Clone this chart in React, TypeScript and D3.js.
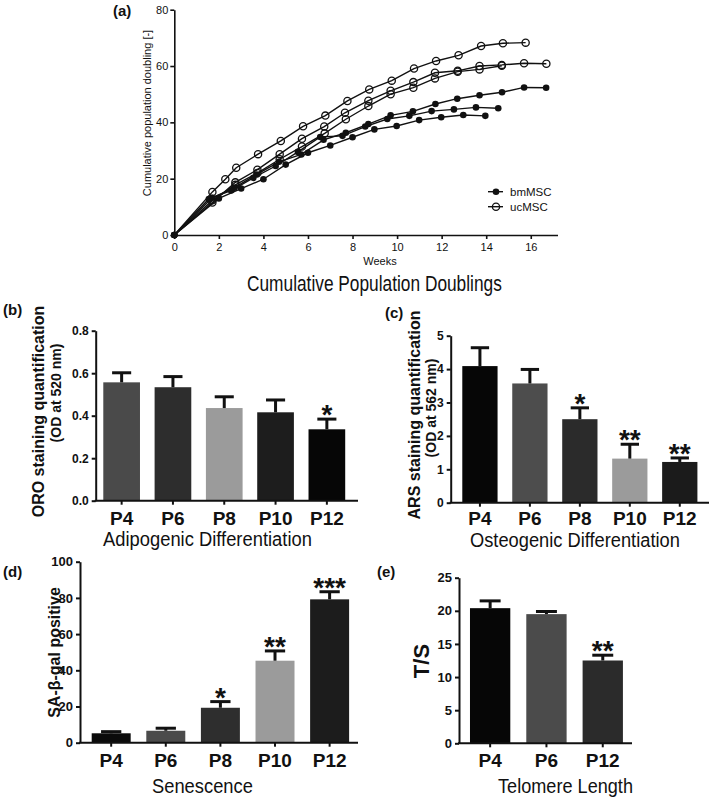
import React, { useEffect, useRef } from "react";
import * as d3 from "d3";

// (a) cumulative population doublings, [weeks, doublings]
const bmMSC1 = [[0, 0], [1.7, 13.2], [2.7, 16.8], [3.7, 21.5], [4.7, 26.0], [5.7, 28.6], [6.7, 33.8], [7.7, 36.3], [8.71, 39.4], [9.71, 42.5], [10.71, 43.9], [11.72, 46.5], [12.7, 48.4], [13.7, 49.6], [14.71, 50.7], [15.7, 52.4], [16.69, 52.3]];
const bmMSC2 = [[0, 0], [1.55, 12.8], [2.55, 15.8], [3.55, 20.3], [4.55, 24.5], [5.55, 29.5], [6.55, 34.8], [7.55, 35.2], [8.57, 38.5], [9.56, 41.2], [10.55, 42.3], [11.55, 44.0], [12.55, 44.6], [13.54, 45.3], [14.54, 45.0]];
const bmMSC3 = [[0, 0], [2, 13.0], [3, 16.5], [4, 19.8], [5, 25.0], [6, 29.2], [7, 31.8], [8, 34.7], [8.98, 37.5], [9.98, 38.7], [10.99, 40.8], [11.98, 41.8], [12.97, 42.6], [13.96, 42.3]];
const ucMSC1 = [[0, 0], [1.71, 15.3], [2.29, 19.8], [2.78, 23.9], [3.76, 28.7], [4.78, 33.4], [5.78, 38.6], [6.78, 42.4], [7.77, 47.6], [8.75, 51.7], [9.76, 54.8], [10.76, 59.1], [11.75, 61.8], [12.76, 63.8], [13.77, 67.1], [14.75, 68.1], [15.77, 68.3]];
const ucMSC2 = [[0, 0], [1.71, 11.5], [2.74, 18.7], [3.73, 23.2], [4.73, 28.7], [5.73, 34.2], [6.73, 38.5], [7.66, 43.4], [8.71, 47.7], [9.71, 51.2], [10.73, 54.3], [11.7, 57.6], [12.72, 58.3], [13.7, 60.0], [14.7, 60.4], [15.7, 61.0], [16.7, 60.8]];
const ucMSC3 = [[0, 0], [1.71, 12.3], [2.74, 17.8], [3.73, 22.0], [4.73, 26.9], [5.73, 31.4], [6.75, 36.1], [7.7, 41.1], [8.71, 45.8], [9.71, 50.0], [10.73, 52.3], [11.7, 55.6], [12.72, 58.0], [13.7, 58.8], [14.7, 60.1]];
const weekTicks = [0, 2, 4, 6, 8, 10, 12, 14, 16];
const doublingTicks = [0, 20, 40, 60, 80];

const passages5 = ["P4", "P6", "P8", "P10", "P12"];
const passages3 = ["P4", "P6", "P12"];

// (b) adipogenic - ORO staining
const oroMean = [0.557, 0.534, 0.436, 0.416, 0.336];
const oroErr = [0.045, 0.05, 0.053, 0.058, 0.048];
const oroStars = ["", "", "", "", "*"];
const oroFills = ["#4a4a4a", "#2d2d2d", "#9b9b9b", "#1d1d1d", "#060606"];
const oroTicks = [0, 0.2, 0.4, 0.6, 0.8];

// (c) osteogenic - ARS staining
const arsMean = [4.09, 3.57, 2.5, 1.32, 1.22];
const arsErr = [0.55, 0.42, 0.34, 0.43, 0.12];
const arsStars = ["", "", "*", "**", "**"];
const arsFills = ["#060606", "#4d4d4d", "#2b2b2b", "#9b9b9b", "#1b1b1b"];
const arsTicks = [0, 1, 2, 3, 4, 5];

// (d) senescence
const galMean = [5.2, 6.6, 19.3, 45.3, 79.2];
const galErr = [0.9, 1.4, 3.4, 5.4, 4.2];
const galStars = ["", "", "*", "**", "***"];
const galFills = ["#0b0b0b", "#4b4b4b", "#2e2e2e", "#9b9b9b", "#1c1c1c"];
const galTicks = [0, 20, 40, 60, 80, 100];

// (e) telomere length
const tsMean = [20.4, 19.5, 12.5];
const tsErr = [1.1, 0.4, 0.8];
const tsStars = ["", "", "**"];
const tsFills = ["#060606", "#4b4b4b", "#2b2b2b"];
const tsTicks = [0, 5, 10, 15, 20, 25];

const FONT = "'Liberation Sans', Arial, Helvetica, sans-serif";

function barPanel(svg, c) {
  const x = d3
    .scaleBand()
    .domain(c.cats)
    .range([c.axisX, c.axisEnd])
    .paddingInner(c.pIn)
    .paddingOuter(c.pOut);
  const y = d3.scaleLinear().domain([0, c.yMax]).range([c.y0, c.y1]);
  const g = svg.append("g");
  const bw = x.bandwidth();

  g.selectAll("rect")
    .data(c.mean)
    .join("rect")
    .attr("x", (d, i) => x(c.cats[i]))
    .attr("y", (d) => y(d))
    .attr("width", bw)
    .attr("height", (d) => y(0) - y(d))
    .attr("fill", (d, i) => c.fills[i]);

  // upper error bars only
  c.mean.forEach((m, i) => {
    const cx = x(c.cats[i]) + bw / 2;
    const top = y(m + c.err[i]);
    g.append("line")
      .attr("x1", cx).attr("x2", cx)
      .attr("y1", y(m)).attr("y2", top)
      .attr("stroke", "#111").attr("stroke-width", 3);
    g.append("line")
      .attr("x1", cx - bw * 0.26).attr("x2", cx + bw * 0.26)
      .attr("y1", top).attr("y2", top)
      .attr("stroke", "#111").attr("stroke-width", 3);
    if (c.stars[i]) {
      g.append("text")
        .attr("x", cx)
        .attr("y", top + 5)
        .attr("text-anchor", "middle")
        .attr("font-family", FONT)
        .attr("font-weight", "bold")
        .attr("font-size", 28)
        .attr("fill", "#111")
        .text(c.stars[i]);
    }
  });

  g.append("g")
    .attr("transform", `translate(${c.axisX},0)`)
    .call(
      d3.axisLeft(y).tickValues(c.ticks).tickFormat(c.fmt).tickSize(4).tickSizeOuter(0).tickPadding(3)
    )
    .call((a) => a.selectAll("path,line").attr("stroke", "#111").attr("stroke-width", 2))
    .call((a) =>
      a.selectAll("text")
        .attr("font-family", FONT)
        .attr("font-weight", "bold")
        .attr("font-size", c.tickFont)
        .attr("fill", "#111")
    );

  g.append("g")
    .attr("transform", `translate(0,${c.y0})`)
    .call(d3.axisBottom(x).tickSize(4).tickPadding(c.catPad || 6.5))
    .call((a) => a.select(".domain").remove())
    .call((a) => a.selectAll("line").attr("stroke", "#111").attr("stroke-width", 2))
    .call((a) =>
      a.selectAll("text")
        .attr("font-family", FONT)
        .attr("font-weight", "bold")
        .attr("font-size", 19)
        .attr("fill", "#111")
    );
  g.append("line")
    .attr("x1", c.axisX - 1).attr("x2", c.lineEnd)
    .attr("y1", c.y0).attr("y2", c.y0)
    .attr("stroke", "#111").attr("stroke-width", 2);
}

function label(svg, txt, x, y, size, opts = {}) {
  const t = svg
    .append("text")
    .attr("x", x)
    .attr("y", y)
    .attr("font-family", FONT)
    .attr("font-size", size)
    .attr("fill", "#111")
    .attr("text-anchor", opts.anchor || "start")
    .text(txt);
  if (opts.bold) t.attr("font-weight", "bold");
  if (opts.rotate) t.attr("transform", `rotate(-90,${x},${y})`);
  if (opts.len) {
    // squeeze to the condensed width of the original titles
    const natural = t.node().getComputedTextLength();
    t.attr("x", 0).attr("y", 0)
      .attr("transform", `translate(${x},${y}) scale(${opts.len / natural},1)`);
  }
  return t;
}

const App = () => {
  const ref = useRef(null);

  useEffect(() => {
    const svg = d3.select(ref.current);
    svg.selectAll("*").remove();

    // ---------- (a) line chart ----------
    const x = d3.scaleLinear().domain([0, 17.2]).range([174.3, 557.5]);
    const y = d3.scaleLinear().domain([0, 80]).range([235, 9.7]);

    svg.append("g")
      .attr("transform", "translate(0,235)")
      .call(d3.axisBottom(x).tickValues(weekTicks).tickSize(4).tickSizeOuter(0).tickPadding(4))
      .call((a) => a.selectAll("path,line").attr("stroke", "#111").attr("stroke-width", 1.6))
      .call((a) => a.selectAll("text").attr("font-family", FONT).attr("font-size", 11).attr("fill", "#111"));
    svg.append("g")
      .attr("transform", "translate(174.3,0)")
      .call(d3.axisLeft(y).tickValues(doublingTicks).tickSize(4).tickSizeOuter(0).tickPadding(2))
      .call((a) => a.selectAll("path,line").attr("stroke", "#111").attr("stroke-width", 1.6))
      .call((a) => a.selectAll("text").attr("font-family", FONT).attr("font-size", 11).attr("fill", "#111"));

    const line = d3.line().x((d) => x(d[0])).y((d) => y(d[1]));
    const all = [bmMSC1, bmMSC2, bmMSC3, ucMSC1, ucMSC2, ucMSC3];
    all.forEach((s) =>
      svg.append("path").datum(s).attr("fill", "none").attr("stroke", "#111").attr("stroke-width", 1.4).attr("d", line)
    );
    [bmMSC1, bmMSC2, bmMSC3].forEach((s) =>
      svg.append("g").selectAll("circle").data(s).join("circle")
        .attr("cx", (d) => x(d[0])).attr("cy", (d) => y(d[1])).attr("r", 3.3).attr("fill", "#111")
    );
    [ucMSC1, ucMSC2, ucMSC3].forEach((s) =>
      svg.append("g").selectAll("circle").data(s.slice(1)).join("circle")
        .attr("cx", (d) => x(d[0])).attr("cy", (d) => y(d[1])).attr("r", 3.6)
        .attr("fill", "none").attr("stroke", "#111").attr("stroke-width", 1.3)
    );
    svg.append("circle").attr("cx", x(0)).attr("cy", y(0)).attr("r", 3.3).attr("fill", "#111");

    // legend
    const leg = svg.append("g");
    leg.append("line").attr("x1", 488).attr("x2", 503).attr("y1", 191.7).attr("y2", 191.7).attr("stroke", "#111").attr("stroke-width", 1.4);
    leg.append("circle").attr("cx", 496).attr("cy", 191.7).attr("r", 3.3).attr("fill", "#111");
    leg.append("line").attr("x1", 488).attr("x2", 503).attr("y1", 206.7).attr("y2", 206.7).attr("stroke", "#111").attr("stroke-width", 1.4);
    leg.append("circle").attr("cx", 496).attr("cy", 206.7).attr("r", 3.6).attr("fill", "none").attr("stroke", "#111").attr("stroke-width", 1.3);
    label(leg, "bmMSC", 510, 195.7, 11.5);
    label(leg, "ucMSC", 510, 210.7, 11.5);

    label(svg, "Weeks", 380, 265, 11, { anchor: "middle" });
    label(svg, "Cumulative population doubling [-]", 151, 113, 11, { anchor: "middle", rotate: true });
    label(svg, "(a)", 113, 16, 15, { bold: true });
    label(svg, "Cumulative Population Doublings", 247, 290.5, 22, { len: 255 });

    // ---------- (b) ----------
    barPanel(svg, {
      cats: passages5, mean: oroMean, err: oroErr, stars: oroStars, fills: oroFills,
      axisX: 95.7, axisEnd: 352.8, lineEnd: 358, pIn: 0.285, pOut: 0.148,
      y0: 500.7, y1: 330.7, yMax: 0.8, ticks: oroTicks, fmt: d3.format(".1f"), tickFont: 12,
    });
    label(svg, "(b)", 3, 315, 15, { bold: true });
    label(svg, "ORO staining quantification", 44, 411.5, 16, { anchor: "middle", rotate: true, bold: true });
    label(svg, "(OD at 520 nm)", 61, 393, 14, { anchor: "middle", rotate: true, bold: true });
    label(svg, "Adipogenic Differentiation", 103, 546, 21, { len: 209 });

    // ---------- (c) ----------
    barPanel(svg, {
      cats: passages5, mean: arsMean, err: arsErr, stars: arsStars, fills: arsFills,
      axisX: 450.7, axisEnd: 709, lineEnd: 709, pIn: 0.294, pOut: 0.232,
      y0: 502.7, y1: 335.7, yMax: 5, ticks: arsTicks, fmt: d3.format("d"), tickFont: 12, catPad: 4.5,
    });
    label(svg, "(c)", 385, 318, 15, { bold: true });
    label(svg, "ARS staining quantification", 420, 415, 16, { anchor: "middle", rotate: true, bold: true });
    label(svg, "(OD at 562 nm)", 436, 408, 14, { anchor: "middle", rotate: true, bold: true });
    label(svg, "Osteogenic Differentiation", 470, 547, 21, { len: 210 });

    // ---------- (d) ----------
    barPanel(svg, {
      cats: passages5, mean: galMean, err: galErr, stars: galStars, fills: galFills,
      axisX: 80, axisEnd: 360.8, lineEnd: 358, pIn: 0.286, pOut: 0.214,
      y0: 742.7, y1: 561.7, yMax: 100, ticks: galTicks, fmt: d3.format("d"), tickFont: 13,
    });
    label(svg, "(d)", 3, 577, 15, { bold: true });
    label(svg, "SA-β-gal positive", 60, 652.5, 16, { anchor: "middle", rotate: true, bold: true });
    label(svg, "Senescence", 152, 793, 21, { len: 101 });

    // ---------- (e) ----------
    barPanel(svg, {
      cats: passages3, mean: tsMean, err: tsErr, stars: tsStars, fills: tsFills,
      axisX: 459, axisEnd: 633.9, lineEnd: 632, pIn: 0.284, pOut: 0.195,
      y0: 743.3, y1: 577.7, yMax: 25, ticks: tsTicks, fmt: d3.format("d"), tickFont: 13,
    });
    label(svg, "(e)", 377, 577, 15, { bold: true });
    label(svg, "T/S", 429, 661, 22, { anchor: "middle", rotate: true, bold: true });
    label(svg, "Telomere Length", 498, 793, 21, { len: 135 });
  }, []);

  return (
    <svg
      ref={ref}
      width={709}
      height={801}
      viewBox="0 0 709 801"
      style={{ position: "absolute", left: 0, top: 0, background: "#fff" }}
    ></svg>
  );
};

export default App;
